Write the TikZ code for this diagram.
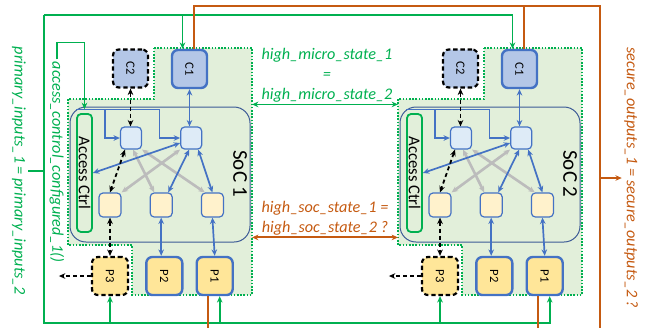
\documentclass[tikz,border=0pt]{standalone}
\usepackage{fontspec}
\setmainfont{Carlito}
\usetikzlibrary{arrows.meta,positioning}

\definecolor{sigreen}{RGB}{0,176,80}
\definecolor{outorange}{RGB}{197,90,17}
\definecolor{coreblue}{RGB}{68,114,196}
\definecolor{socline}{RGB}{60,90,150}
\definecolor{zonefill}{RGB}{226,239,218}
\definecolor{corefill}{RGB}{180,199,231}
\definecolor{pinfill}{RGB}{255,230,153}
\definecolor{unitfill}{RGB}{222,235,247}
\definecolor{regfill}{RGB}{255,242,204}
\definecolor{crossgrey}{RGB}{188,188,188}

\tikzset{
    line join=round,
    tip/.style={>={Stealth[length=3.2pt,width=2.8pt]}},
    zone/.style={
        fill=zonefill,
        draw=sigreen,
        line width=0.8pt,
        dash pattern=on 0.8pt off 0.8pt
    },
    socbox/.style={
        rectangle,
        rounded corners=8pt,
        draw=socline,
        fill=zonefill,
        line width=0.5pt,
        minimum width=90pt,
        minimum height=67.5pt
    },
    corebox/.style={
        rectangle,
        rounded corners=3pt,
        draw=coreblue,
        fill=corefill,
        line width=1.2pt,
        minimum width=17.5pt,
        minimum height=19pt,
        inner sep=0pt,
        font=\fontsize{6.3}{7}\selectfont
    },
    ghostcore/.style={corebox, draw=black, line width=1.1pt, dash pattern=on 2.2pt off 1.4pt},
    pinbox/.style={corebox, fill=pinfill, minimum width=18pt},
    ghostpin/.style={pinbox, draw=black, line width=1.1pt, dash pattern=on 2.2pt off 1.4pt},
    unit/.style={
        rectangle,
        rounded corners=2pt,
        draw=coreblue,
        fill=unitfill,
        line width=0.6pt,
        minimum width=10.5pt,
        minimum height=11pt,
        inner sep=0pt
    },
    reg/.style={unit, fill=regfill, minimum width=11pt, minimum height=12pt},
    accbox/.style={
        rectangle,
        rounded corners=2pt,
        draw=sigreen,
        fill=zonefill,
        line width=0.9pt,
        minimum width=7.5pt,
        minimum height=59pt,
        inner sep=0pt,
        font=\fontsize{8.3}{9}\selectfont
    },
    link/.style={<->, tip, draw=coreblue, line width=0.85pt},
    crosslink/.style={link, draw=crossgrey, line width=1.3pt},
    ghostlink/.style={link, draw=black, line width=0.9pt, dash pattern=on 2pt off 1.5pt},
    busline/.style={->, tip, draw=coreblue, line width=0.6pt},
    inbus/.style={draw=sigreen, line width=1.4pt},
    inwire/.style={->, tip, draw=sigreen, line width=0.9pt},
    outwire/.style={draw=outorange, line width=1pt, tip},
    note/.style={font=\fontsize{8.1}{10}\selectfont\itshape, align=center, inner sep=1pt},
    vnote/.style={note, rotate=-90},
    soctitle/.style={font=\fontsize{10.5}{12}\selectfont, rotate=-90}
}

\begin{document}
\begin{tikzpicture}[x=0.5pt, y=-0.5pt]
\useasboundingbox (0,0) rectangle (646,328);

% --- The two SoC copies ---
\foreach \s/\dx in {1/0, 2/330} {
\begin{scope}[shift={(\dx,0)}]
    % dotted zone round the SoC
    \draw[zone] (154,48) -- (252,48) -- (252,295) -- (132,295) -- (132,245)
        -- (68,245) -- (68,99) -- (154,99) -- cycle;
    \coordinate (zone\s-w) at (68,99);
    \coordinate (zone\s-e) at (252,48);

    \node[socbox] (soc\s) at (160,174.5) {};
    \node[soctitle] (soctitle\s) at (240,174) {SoC \s};

    % cores, pins and access control
    \node[ghostcore] (c2-\s) at (130.5,68.5) {\rotatebox{-90}{C2}};
    \node[corebox] (c1-\s) at (189.5,69) {\rotatebox{-90}{C1}};
    \node[accbox] (acc-\s) at (84.5,173) {\rotatebox{-90}{Access Ctrl}};
    \node[ghostpin] (p3-\s) at (110,276) {\rotatebox{-90}{P3}};
    \node[pinbox, right=8pt of p3-\s] (p2-\s) {\rotatebox{-90}{P2}};
    \node[pinbox, right=6pt of p2-\s] (p1-\s) {\rotatebox{-90}{P1}};

    % internal units
    \node[unit] (ua-\s) at (131,138) {};
    \node[unit, right=19pt of ua-\s] (ub-\s) {};
    \node[reg] (ra-\s) at (110,205) {};
    \node[reg, right=14pt of ra-\s] (rb-\s) {};
    \node[reg, right=14pt of rb-\s] (rc-\s) {};

    % control bus from the access control block
    \draw[busline] ([yshift=2pt]acc-\s.north west) -| ([xshift=-7.5pt]ua-\s.west) -- (ua-\s.west);
    \draw[busline] ([yshift=2pt]acc-\s.north west) -| ([xshift=-10.5pt]ub-\s.west) -- (ub-\s.west);

    % crossing links
    \draw[crosslink] ([xshift=1pt]ua-\s.south) -- ([xshift=-3.5pt]rb-\s.north);
    \draw[crosslink] (ua-\s.south east) -- ([xshift=2pt]rc-\s.north west);
    \draw[crosslink] (ub-\s.south west) -- (ra-\s.north east);
    \draw[link] ([xshift=-1pt]ub-\s.south) -- ([xshift=3.5pt]rb-\s.north);
    \draw[link] ([xshift=3.5pt]ub-\s.south) -- (rc-\s.north);
    \draw[link] ([yshift=-2.5pt]ub-\s.west) -- (acc-\s.east);
    \draw[ghostlink] ([xshift=-3pt]ua-\s.south) -- (ra-\s.north);

    % to cores and pins
    \draw[ghostlink] (c2-\s.south) -- (c2-\s.south |- ua-\s.north);
    \draw[link] (c1-\s.south) -- (c1-\s.south |- ub-\s.north);
    \draw[ghostlink] (ra-\s.south) -- (p3-\s.north);
    \draw[link] (rb-\s.south) -- (rb-\s.south |- p2-\s.north);
    \draw[link] (rc-\s.south) -- (p1-\s.north);
    \coordinate[left=16pt of p3-\s] (p3out-\s);
    \draw[ghostlink, ->] (p3-\s.west) -- (p3out-\s);
\end{scope}
}

% --- Access control configuration ---
\node[vnote, text=sigreen] (acl) at (57,162) {access\_control\_configured\_1()};
\draw[inwire] (acl.west) -- ++(0,-17) -| ([yshift=2pt]acc-1.north);

% --- Primary inputs ---
\node[vnote, text=sigreen] (pil) at (19,171) {primary\_inputs\_1 = primary\_inputs\_2};
\coordinate (in-tl) at (44,15);
\coordinate (in-bl) at (44,323);
\draw[inbus] (pil.north) -- (pil.north -| in-tl);
\draw[inwire] (in-tl) -| ([xshift=-3.5pt]c1-2.north);
\draw[inwire] ([xshift=-3.5pt]c1-1.north |- in-tl) -- ([xshift=-3.5pt]c1-1.north);
\draw[inbus] (in-tl) -- (in-bl) -- ([xshift=2.5pt]p1-1.south |- in-bl);
\draw[inwire] ([xshift=2.5pt]p1-1.south |- in-bl) -| ([xshift=2.5pt]p1-2.south);
\draw[inwire] ([xshift=2.5pt]p1-1.south |- in-bl) -- ([xshift=2.5pt]p1-1.south);
\draw[inwire] (p3-1.south |- in-bl) -- (p3-1.south);
\draw[inwire] (p3-2.south |- in-bl) -- (p3-2.south);

% --- Secure outputs ---
\node[vnote, text=outorange] (sol) at (631,178) {secure\_outputs\_1 = secure\_outputs\_2 ?};
\coordinate (out-tr) at (600,6);
\coordinate (out-br) at (600,328);
\draw[outwire] ([xshift=2pt]c1-1.north) |- (out-tr) -- (out-br);
\draw[outwire] ([xshift=2pt]c1-2.north) -- ([xshift=2pt]c1-2.north |- out-tr);
\draw[outwire, ->] (sol.south -| out-tr) -- (sol.south);
\draw[outwire] ([xshift=-3.5pt]p1-1.south) -- ([xshift=-3.5pt]p1-1.south |- out-br);
\draw[outwire] ([xshift=-3.5pt]p1-2.south) -- ([xshift=-3.5pt]p1-2.south |- out-br);

% --- State comparison between the SoCs ---
\node[note, text=sigreen] (hm) at (327,75) {high\_micro\_state\_1\\=\\high\_micro\_state\_2};
\draw[inwire, <->] (zone1-e |- hm.south) -- (zone2-w |- hm.south);
\node[note, text=outorange] (hs) at (325,218) {high\_soc\_state\_1 =\\high\_soc\_state\_2 ?};
\draw[outwire, <->] (zone1-e |- hs.south) -- (zone2-w |- hs.south);

\end{tikzpicture}
\end{document}
